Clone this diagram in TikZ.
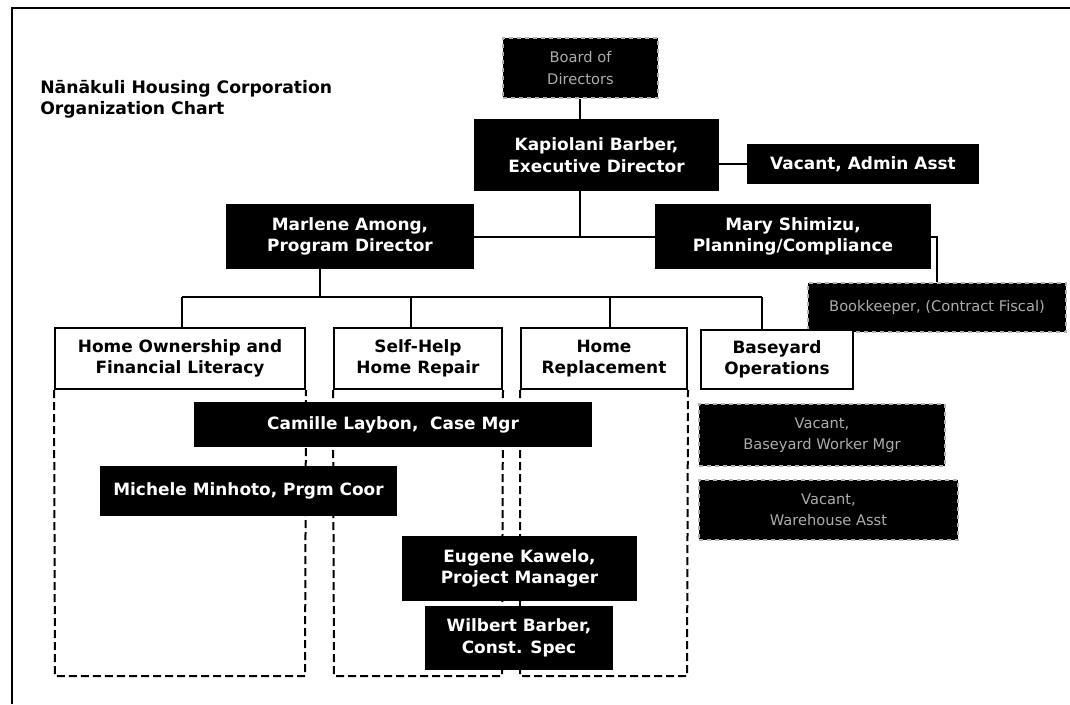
\documentclass[tikz,border=0pt]{standalone}
\usepackage{fontspec}
\setmainfont{DejaVu Sans}
\usetikzlibrary{backgrounds}
\begin{document}
\begin{tikzpicture}[x=0.75pt,y=-0.75pt,
  sz/.style 2 args={minimum width=#1*0.75pt, minimum height=#2*0.75pt},
  boxfont/.style={font=\bfseries\fontsize{12.7}{16.2}\selectfont},
  blk/.style={boxfont, fill=black, draw=black, line width=1pt, text=white, align=center, inner sep=0pt},
  dim/.style={blk, draw=gray!60, dashed, text=gray!65, font=\fontsize{11}{16}\selectfont},
  wbox/.style={boxfont, draw=black, line width=1.5pt, fill=white, text=black, align=center, inner sep=0pt},
  conn/.style={draw=black, line width=1.5pt},
  col/.style={draw=black, line width=1.5pt, dash pattern=on 6pt off 3pt}]
\useasboundingbox (0,0) rectangle (1070,704);
% frame
\coordinate (ftl) at (12,8);
\coordinate (ftr) at (1070,8);
\coordinate (fbl) at (12,704);
\draw[line width=2pt] (fbl) -- (ftl) -- (ftr);
% title
\node[anchor=north west, align=left, font=\bfseries\fontsize{12.9}{16}\selectfont, inner sep=0pt] (title) at (40,80)
  {Nānākuli Housing Corporation\\Organization Chart};
% boxes
\node[dim, sz={155}{60}] (board) at (580.5,68) {Board of\\Directors};
\node[blk, sz={243}{70}] (exec) at (596.5,155) {Kapiolani Barber,\\Executive Director};
\node[blk, sz={230}{38}] (admin) at (863,164) {Vacant, Admin Asst};
\node[blk, sz={246}{63}] (marlene) at (350,236.5) {Marlene Among,\\Program Director};
\node[blk, sz={274}{63}] (mary) at (793,236.5) {Mary Shimizu,\\Planning/Compliance};
\node[dim, sz={258}{49}] (book) at (937,307.5) {Bookkeeper, (Contract Fiscal)};
\node[wbox, sz={250}{61}] (ho) at (180,358.5) {Home Ownership and\\Financial Literacy};
\node[wbox, sz={168}{61}] (sh) at (418,358.5) {Self-Help\\Home Repair};
\node[wbox, sz={166}{61}] (hr) at (604,358.5) {Home\\Replacement};
\node[wbox, sz={152}{59}] (by) at (777,359.5) {Baseyard\\Operations};
\node[blk, sz={396}{43}] (camille) at (393,424.5) {Camille Laybon,\ \ Case Mgr};
\node[blk, sz={295}{48}] (michele) at (248.5,491) {Michele Minhoto, Prgm Coor};
\node[blk, sz={233}{63}] (eugene) at (519.5,568.5) {Eugene Kawelo,\\Project Manager};
\node[blk, sz={186}{62}] (wilbert) at (519,638) {Wilbert Barber,\\Const. Spec};
\node[dim, sz={246}{62}] (bw) at (822,435) {Vacant,\\Baseyard Worker Mgr};
\node[dim, sz={259}{60}] (wh) at (828.5,510) {Vacant,\\Warehouse Asst};
% connectors
\begin{scope}[on background layer]
  \fill[white] (0,0) rectangle (1070,704);
  \coordinate (j1) at (580,237);
  \coordinate (bus1) at (320,297);
  \coordinate (busL) at (182,297);
  \coordinate (busR) at (762,297);
  \coordinate (dSH) at (411,297);
  \coordinate (dHR) at (610,297);
  \coordinate (hoB1) at (55,676);
  \coordinate (hoB2) at (305,676);
  \coordinate (shB1) at (334,676);
  \coordinate (shB2) at (502,676);
  \coordinate (hrB1) at (520,676);
  \coordinate (hrB2) at (687,676);
  \draw[conn] (board.south -| j1) -- (exec.south -| j1) -- (j1);
  \draw[conn] (admin.west) -- (admin.west -| exec.east);
  \draw[conn] (marlene.east |- j1) -- (mary.west |- j1);
  \draw[conn] (mary.east |- j1) -| (book.north);
  \draw[conn] (marlene.south -| bus1) -- (bus1);
  \draw[conn] (busL) -- (busR);
  \draw[conn] (busL) -- (ho.north -| busL);
  \draw[conn] (dSH) -- (sh.north -| dSH);
  \draw[conn] (dHR) -- (hr.north -| dHR);
  \draw[conn] (busR) -- (by.north -| busR);
  \draw[col] (ho.south west) -- (hoB1) -- (hoB2) -- (ho.south east);
  \draw[col] (sh.south west) -- (shB1) -- (shB2) -- (sh.south east);
  \draw[col] (hr.south west -| hrB1) -- (hrB1) -- (hrB2) -- (hr.south east);
  \draw[conn] (eugene.south -| hrB1) -- (wilbert.north -| hrB1);
\end{scope}
\end{tikzpicture}
\end{document}
